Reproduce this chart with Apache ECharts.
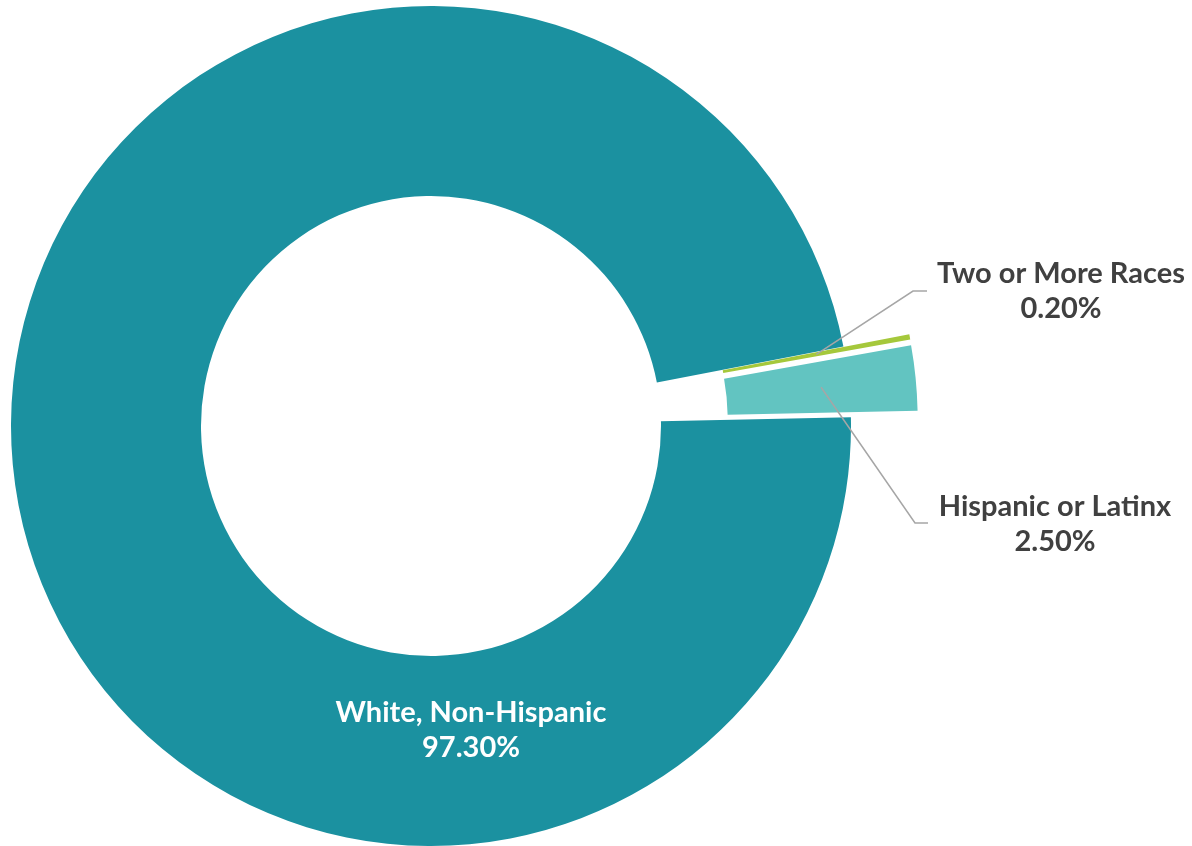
<!DOCTYPE html>
<html>
<head>
<meta charset="utf-8">
<script src="https://cdn.jsdelivr.net/npm/echarts@6/dist/echarts.min.js"></script>
<style>
  html, body { margin: 0; padding: 0; background: #ffffff; }
  #chart { width: 1192px; height: 846px; }
</style>
</head>
<body>
<div id="chart"></div>
<script>
const categories = ['White, Non-Hispanic', 'Hispanic or Latinx', 'Two or More Races'];
const values = [97.3, 2.5, 0.2];
const colors = ['#1B91A0', '#62C4C1', '#A5C83B'];
const exploded = [false, true, true];

const CX = 431, CY = 426, R0 = 230, R1 = 420, OFFSET = 67, START = 10.9;
const total = values.reduce((a, b) => a + b, 0);

// mid-angle (degrees, counterclockwise from 3 o'clock) of each slice
const midAngles = [];
let acc = START;
values.forEach(v => {
  const span = v / total * 360;
  midAngles.push(acc + span / 2);
  acc += span;
});

// label anchor positions (label placement only)
const labelPos = [
  { x: 471, y: 730, line: null },
  { x: 1055, y: 524, line: [[915, 523], [928, 523]] },
  { x: 1061, y: 291, line: [[913, 291], [927, 291]] }
];

function sliceMid(i) {
  const a = midAngles[i] * Math.PI / 180;
  const off = exploded[i] ? OFFSET : 0;
  const rm = (R0 + R1) / 2;
  return [CX + (off + rm) * Math.cos(a), CY - (off + rm) * Math.sin(a)];
}

const pieData = categories.map((name, i) => ({
  name: name,
  value: values[i],
  selected: exploded[i],
  itemStyle: { color: colors[i] }
}));

const labelData = categories.map((name, i) => ({
  name: name,
  value: values[i],
  itemStyle: { color: 'rgba(0,0,0,0)' },
  label: { color: i === 0 ? '#ffffff' : '#404040' },
  labelLine: { show: i !== 0 }
}));

const chart = echarts.init(document.getElementById('chart'), null, { renderer: 'canvas' });
chart.setOption({
  animation: false,
  backgroundColor: '#ffffff',
  series: [{
    type: 'pie',
    z: 2,
    center: [CX, CY],
    radius: [R0, R1],
    startAngle: START,
    clockwise: false,
    selectedMode: 'multiple',
    selectedOffset: OFFSET,
    itemStyle: { borderWidth: 0 },
    emphasis: { disabled: true },
    select: { itemStyle: { borderWidth: 0 } },
    label: { show: false },
    labelLine: { show: false },
    data: pieData
  }, {
    type: 'pie',
    z: 6,
    silent: true,
    center: [CX, CY],
    radius: [R0, R1],
    startAngle: START,
    clockwise: false,
    selectedMode: false,
    avoidLabelOverlap: false,
    itemStyle: { borderWidth: 0 },
    emphasis: { disabled: true },
    label: {
      show: true,
      position: 'outside',
      fontFamily: 'Lato',
      fontWeight: 'bold',
      fontSize: 29,
      lineHeight: 35,
      align: 'center',
      formatter: p => p.name + '\n' + p.value.toFixed(2) + '%'
    },
    labelLine: {
      show: true,
      lineStyle: { color: '#A6A6A6', width: 1.5 }
    },
    labelLayout: function (params) {
      const i = params.dataIndex;
      const lp = labelPos[i];
      const res = { x: lp.x, y: lp.y, align: 'center', verticalAlign: 'middle' };
      if (lp.line) {
        res.labelLinePoints = [sliceMid(i), lp.line[0], lp.line[1]];
      }
      return res;
    },
    data: labelData
  }]
});
</script>
</body>
</html>
